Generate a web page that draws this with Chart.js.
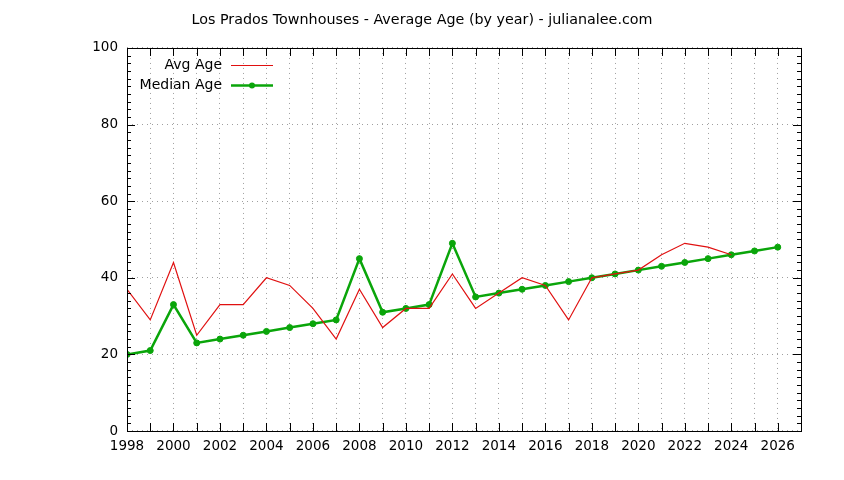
<!DOCTYPE html>
<html>
<head>
<meta charset="utf-8">
<script src="https://cdn.jsdelivr.net/npm/chart.js@4.4.1/dist/chart.umd.min.js"></script>
<style>
  html, body { margin: 0; padding: 0; background: #fff; }
  #wrap { width: 844px; height: 480px; }
</style>
</head>
<body>
<div id="wrap"><canvas id="ageChart"></canvas></div>
<script>
// data
const years = [1998, 1999, 2000, 2001, 2002, 2003, 2004, 2005, 2006, 2007, 2008, 2009, 2010, 2011, 2012,
               2013, 2014, 2015, 2016, 2017, 2018, 2019, 2020, 2021, 2022, 2023, 2024, 2025, 2026];
const avgAge = [37, 29, 44, 25, 33, 33, 40, 38, 32, 24, 37, 27, 32, 32, 41,
                32, 36, 40, 38, 29, 40, 41, 42, 46, 49, 48, 46, null, null];
const medianAge = [20, 21, 33, 23, 24, 25, 26, 27, 28, 29, 45, 31, 32, 33, 49,
                   35, 36, 37, 38, 39, 40, 41, 42, 43, 44, 45, 46, 47, 48];
const yTickLabels = [0, 20, 40, 60, 80, 100];
const seriesNames = ['Avg Age', 'Median Age'];

const FONT = 'DejaVu Sans';

// build {x,y} points from the arrays
function toPoints(values) {
    return years.map((yr, i) => ({ x: yr, y: values[i] }));
}

// gnuplot style ticks: drawn inside the frame, on all four sides
const innerTicks = {
    id: 'innerTicks',
    afterDatasetsDraw(chart) {
        const { ctx, chartArea: a, scales } = chart;
        ctx.save();
        ctx.strokeStyle = '#000';
        ctx.lineWidth = 1;
        ctx.beginPath();
        scales.x.ticks.forEach(t => {
            const px = Math.round(scales.x.getPixelForValue(t.value)) + 0.5;
            ctx.moveTo(px, a.bottom); ctx.lineTo(px, a.bottom - 8);
            ctx.moveTo(px, a.top); ctx.lineTo(px, a.top + 8);
        });
        scales.y.ticks.forEach(t => {
            const py = Math.round(scales.y.getPixelForValue(t.value)) + 0.5;
            const len = yTickLabels.includes(t.value) ? 8 : 4;
            ctx.moveTo(a.left, py); ctx.lineTo(a.left + len, py);
            ctx.moveTo(a.right, py); ctx.lineTo(a.right - len, py);
        });
        ctx.stroke();
        // frame
        ctx.strokeRect(Math.round(a.left) + 0.5, Math.round(a.top) + 0.5,
                       Math.round(a.right - a.left), Math.round(a.bottom - a.top));
        ctx.restore();
    }
};

// legend inside the plot: text right aligned, sample to the right
const keyBox = {
    id: 'keyBox',
    afterDraw(chart) {
        const { ctx } = chart;
        ctx.save();
        ctx.font = '14px "' + FONT + '"';
        ctx.textAlign = 'right';
        ctx.textBaseline = 'middle';
        chart.data.datasets.forEach((ds, i) => {
            const y = 65 + i * 20;
            ctx.fillStyle = '#000';
            ctx.fillText(ds.label, 222, y);
            ctx.strokeStyle = ds.borderColor;
            ctx.lineWidth = ds.borderWidth;
            ctx.beginPath();
            ctx.moveTo(231, y + 0.5);
            ctx.lineTo(273, y + 0.5);
            ctx.stroke();
            if (ds.pointRadius > 0) {
                ctx.fillStyle = ds.pointBackgroundColor;
                ctx.beginPath();
                ctx.arc(252, y + 0.5, ds.pointRadius, 0, Math.PI * 2);
                ctx.fill();
            }
        });
        ctx.restore();
    }
};

const ctx = document.getElementById('ageChart').getContext('2d');
new Chart(ctx, {
    type: 'line',
    data: {
        datasets: [
            {
                label: seriesNames[0],
                data: toPoints(avgAge),
                borderColor: '#e01010',
                borderWidth: 1.2,
                pointRadius: 0,
                pointHoverRadius: 0,
                tension: 0,
                spanGaps: false
            },
            {
                label: seriesNames[1],
                data: toPoints(medianAge),
                borderColor: '#0aa50a',
                backgroundColor: '#0aa50a',
                pointBackgroundColor: '#0aa50a',
                pointBorderColor: '#0aa50a',
                borderWidth: 2.5,
                pointRadius: 3,
                pointBorderWidth: 1,
                tension: 0
            }
        ]
    },
    options: {
        responsive: true,
        maintainAspectRatio: false,
        animation: false,
        events: [],
        layout: { padding: 0 },
        plugins: {
            legend: { display: false },
            tooltip: { enabled: false },
            title: {
                display: true,
                text: 'Los Prados Townhouses - Average Age (by year) - julianalee.com',
                color: '#000',
                font: { family: FONT, size: 14.3, weight: 'normal', lineHeight: 1.2 },
                padding: { top: 11.5, bottom: 19.3 }
            }
        },
        scales: {
            x: {
                type: 'linear',
                min: 1998,
                max: 2027,
                afterFit(scale) { scale.height = 49; },
                border: { display: false, dash: [1, 4] },
                grid: {
                    drawTicks: false,
                    color: '#a0a0a0',
                    lineWidth: 1
                },
                ticks: {
                    stepSize: 1,
                    autoSkip: false,
                    maxRotation: 0,
                    padding: 7,
                    color: '#000',
                    font: { family: FONT, size: 13.5 },
                    callback: v => (v % 2 === 0 && v <= 2026 ? String(v) : '')
                }
            },
            y: {
                min: 0,
                max: 100,
                afterFit(scale) { scale.width = 127; },
                border: { display: false, dash: [1, 4] },
                grid: {
                    drawTicks: false,
                    color: c => (yTickLabels.includes(c.tick.value) ? '#a0a0a0' : 'rgba(0,0,0,0)'),
                    lineWidth: 1
                },
                ticks: {
                    stepSize: 2,
                    autoSkip: false,
                    padding: 9,
                    color: '#000',
                    font: { family: FONT, size: 13.5 },
                    callback: v => (yTickLabels.includes(v) ? String(v) : '')
                }
            },
            // empty right-hand margin so the title stays centred on the page
            yRight: {
                position: 'right',
                min: 0,
                max: 100,
                afterFit(scale) { scale.width = 43; },
                border: { display: false },
                grid: { display: false, drawTicks: false },
                ticks: { display: false }
            }
        }
    },
    plugins: [innerTicks, keyBox]
});
</script>
</body>
</html>
